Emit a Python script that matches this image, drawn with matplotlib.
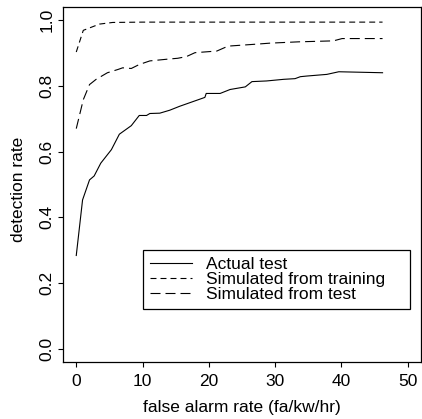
import matplotlib
matplotlib.use('Agg')
import matplotlib.pyplot as plt

plt.rcParams['font.family'] = ['Liberation Sans', 'DejaVu Sans']
plt.rcParams['lines.scale_dashes'] = False

# detection rate vs false alarm rate
actual_fa = [0, 0.95, 2.0, 2.7, 3.7, 5.3, 6.5, 8.3, 9.5, 10.6, 11.1, 12.6, 14.1, 15.6,
             19.4, 19.6, 21.7, 23.2, 25.5, 26.5, 28.7, 31.3, 33.0, 33.8, 34.8, 37.8, 39.6, 46.2]
actual_det = [0.284, 0.453, 0.514, 0.526, 0.565, 0.606, 0.653, 0.679, 0.710, 0.710, 0.716, 0.717,
              0.726, 0.738, 0.765, 0.777, 0.777, 0.789, 0.797, 0.813, 0.815, 0.820, 0.822, 0.828,
              0.830, 0.835, 0.843, 0.840]

train_fa = [0, 1.06, 3.5, 5.5, 10, 46.2]
train_det = [0.903, 0.969, 0.988, 0.993, 0.994, 0.994]

simtest_fa = [0, 1.06, 2.0, 3.0, 4.7, 6.3, 7.0, 8.3, 9.5, 11.1, 13.6, 15.3, 16.6, 17.9,
              21.2, 22.9, 27.2, 29.2, 33.5, 38.8, 40.1, 46.2]
simtest_det = [0.670, 0.758, 0.804, 0.820, 0.840, 0.850, 0.855, 0.853, 0.865, 0.876, 0.881,
               0.884, 0.889, 0.901, 0.906, 0.921, 0.927, 0.930, 0.934, 0.937, 0.944, 0.944]

labels = ['Actual test', 'Simulated from training', 'Simulated from test']
x_ticks = [0, 10, 20, 30, 40, 50]
y_ticks = [0.0, 0.2, 0.4, 0.6, 0.8, 1.0]

fs = 12.5
fig = plt.figure(figsize=(4.22, 4.19), dpi=100)
ax = fig.add_axes([63 / 422, 57 / 419, 358 / 422, 355 / 419])

lw = 0.8
ax.plot(actual_fa, actual_det, color='black', lw=lw, label=labels[0])
ax.plot(train_fa, train_det, color='black', lw=lw, linestyle=(0, (4.3, 2.9)), label=labels[1])
ax.plot(simtest_fa, simtest_det, color='black', lw=lw, linestyle=(0, (7.2, 3.6)), label=labels[2])

ax.set_xlim(-2, 52)
ax.set_ylim(-0.04, 1.04)
ax.set_xticks(x_ticks)
ax.set_xticklabels([str(t) for t in x_ticks])
ax.set_yticks(y_ticks)
ax.set_yticklabels([f'{t:.1f}' for t in y_ticks], rotation=90, va='center')
ax.tick_params(axis='x', length=3.6, width=0.8, pad=5, labelsize=fs)
ax.tick_params(axis='y', length=3.6, width=0.8, pad=2.5, labelsize=fs)
for sp in ax.spines.values():
    sp.set_linewidth(0.9)

ax.set_xlabel('false alarm rate (fa/kw/hr)', fontsize=fs)
ax.set_ylabel('detection rate', fontsize=fs)
ax.xaxis.set_label_coords(0.5, -0.107)
ax.yaxis.set_label_coords(-0.103, 0.485)

# legend box spans roughly x 143..410, y 250..310 px in the reference
leg = ax.legend(loc='upper left', bbox_to_anchor=(0.2235, 0.146, 0.746, 0.1695), mode='expand',
                fontsize=fs, frameon=True, fancybox=False, edgecolor='black', framealpha=1,
                handlelength=2.4, handletextpad=0.8, labelspacing=0.0,
                borderpad=0.4, borderaxespad=0)
leg.get_frame().set_linewidth(0.9)

fig.savefig('out.png', dpi=100)
